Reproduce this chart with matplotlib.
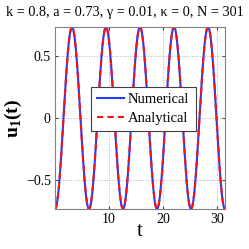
import numpy as np
import matplotlib
matplotlib.use("Agg")
import matplotlib.pyplot as plt

plt.rcParams['font.family'] = ['Liberation Serif', 'DejaVu Serif']
plt.rcParams['mathtext.fontset'] = 'custom'
plt.rcParams['mathtext.rm'] = 'Liberation Serif'
plt.rcParams['mathtext.bf'] = 'Liberation Serif:bold'

# values
amp = 0.73          # a
period = 2 * np.pi  # one full oscillation
t_max = 10 * np.pi
xticks = [10, 20, 30]
yticks = [-0.5, 0, 0.5]
yticklabels = ['\u22120.5', '0', '0.5']

t = np.linspace(0, t_max, 600)
u_num = -amp * np.cos(2 * np.pi * t / period)
u_ana = -amp * np.cos(2 * np.pi * t / period)

fig = plt.figure(figsize=(2.49, 2.49), dpi=100)
ax = fig.add_axes([55 / 249, 40 / 249, 170 / 249, 182 / 249])

ax.plot(t, u_num, color='#1f3cff', lw=1.5, label='Numerical')
ax.plot(t, u_ana, color='#ff1010', lw=1.5, ls=(0, (3, 2)), label='Analytical')

ax.set_xlim(0, t_max)
ax.set_ylim(-amp, amp)
ax.set_xticks(xticks)
ax.set_yticks(yticks)
ax.set_yticklabels(yticklabels)
ax.tick_params(direction='in', length=2, labelsize=10, colors='#444444',
               labelcolor='black', pad=3, top=True, right=True)
ax.grid(True, ls=':', color='#b0b0b0', lw=0.7)
for s in ax.spines.values():
    s.set_color('#808080')

ax.set_xlabel('t', fontsize=15, labelpad=-3)
ax.set_ylabel('u$_\\mathbf{1}$(t)', fontsize=14, fontweight='bold', labelpad=1)
fig.text(0.5, 0.975, 'k = 0.8, a = 0.73, \u03b3 = 0.01, \u03ba = 0, N = 301',
         fontsize=10.3, ha='center', va='top')

leg = ax.legend(loc='center', bbox_to_anchor=(0.52, 0.55), fontsize=10.5,
                fancybox=False, framealpha=1, edgecolor='#404040',
                handlelength=1.8, borderpad=0.45, labelspacing=0.35,
                handletextpad=0.3, borderaxespad=0)
leg.get_frame().set_linewidth(0.8)

fig.savefig('out.png', dpi=100)
